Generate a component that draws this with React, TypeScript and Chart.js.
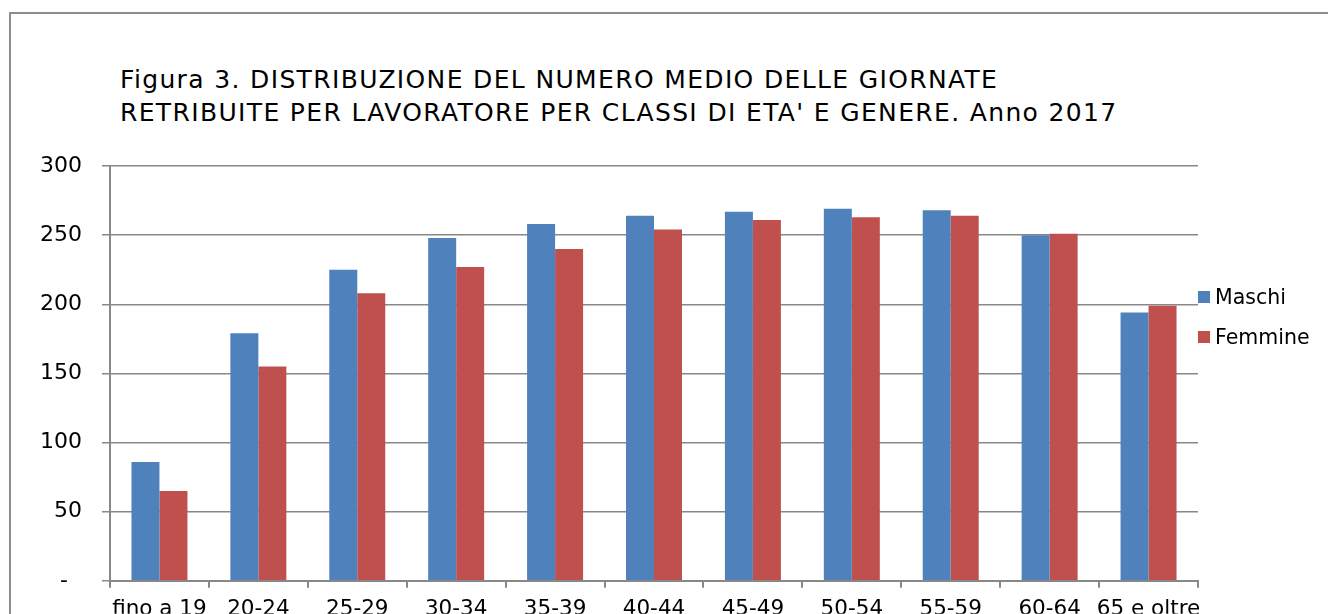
import React, { useEffect, useRef } from "react";
import { Chart, registerables } from "chart.js";

Chart.register(...registerables);

const categories = ["fino a 19", "20-24", "25-29", "30-34", "35-39", "40-44", "45-49", "50-54", "55-59", "60-64", "65 e oltre"];
const maschi = [86, 179, 225, 248, 258, 264, 267, 269, 268, 250, 194];
const femmine = [65, 155, 208, 227, 240, 254, 261, 263, 264, 251, 199];
const seriesNames = ["Maschi", "Femmine"];
const seriesColors = ["#4F81BD", "#C0504D"];
const yTicks = [0, 50, 100, 150, 200, 250, 300];
const titleLines = [
  "Figura 3. DISTRIBUZIONE DEL NUMERO MEDIO DELLE GIORNATE",
  "RETRIBUITE PER LAVORATORE PER CLASSI DI ETA' E GENERE. Anno 2017",
];

const FONT = "'DejaVu Sans', Verdana, sans-serif";

export default function App() {
  const ref = useRef<HTMLCanvasElement | null>(null);
  useEffect(() => {
    if (!ref.current) return;
    const chart = new Chart(ref.current, {
      type: "bar",
      data: {
        labels: categories,
        datasets: [
          { label: seriesNames[0], data: maschi, backgroundColor: seriesColors[0], categoryPercentage: 0.566, barPercentage: 1.0 },
          { label: seriesNames[1], data: femmine, backgroundColor: seriesColors[1], categoryPercentage: 0.566, barPercentage: 1.0 },
        ],
      },
      options: {
        animation: false,
        responsive: false,
        maintainAspectRatio: false,
        layout: { padding: { left: 0, top: 166, right: 130, bottom: 0 } },
        plugins: { legend: { display: false }, title: { display: false }, tooltip: { enabled: false } },
        scales: {
          x: {
            afterFit: (s: any) => { s.height = 33; },
            grid: { drawOnChartArea: false, tickLength: 7, color: "#888888", lineWidth: 2, offset: true },
            border: { color: "#888888", width: 2 },
            ticks: { font: { family: FONT, size: 21.5 }, color: "#000", padding: 9, maxRotation: 0, autoSkip: false },
          },
          y: {
            min: 0,
            max: 300,
            afterFit: (s: any) => { s.width = 110; },
            afterBuildTicks: (s: any) => { s.ticks = yTicks.map((v) => ({ value: v })); },
            grid: { color: "#888888", lineWidth: 1.5, tickLength: 8 },
            border: { color: "#888888", width: 2 },
            ticks: {
              font: { family: FONT, size: 22 },
              color: "#000",
              padding: 20,
              callback: (v: any) => (Number(v) === 0 ? "-  " : String(v)),
            },
          },
        },
      },
    });
    return () => chart.destroy();
  }, []);

  return (
    <div style={{ position: "fixed", left: 0, top: 0, width: 1328, height: 614, overflow: "hidden", background: "#fff", fontFamily: FONT }}>
      <div style={{ position: "absolute", left: 9, top: 12, width: 1400, height: 700, border: "2px solid #8c8c8c", boxSizing: "border-box" }} />
      <div style={{ position: "absolute", left: 120, top: 63, fontSize: 25, lineHeight: "33px", letterSpacing: "1.35px", color: "#000", whiteSpace: "nowrap" }}>
        {titleLines.map((t, i) => (<div key={i}>{t}</div>))}
      </div>
      <canvas ref={ref} width={1328} height={614} style={{ position: "absolute", left: 0, top: 0, width: 1328, height: 614 }} />
      {seriesNames.map((n, i) => (
        <div key={n} style={{ position: "absolute", left: 1198, top: 285 + i * 40, height: 24, display: "flex", alignItems: "center", fontSize: 20.5, color: "#000" }}>
          <div style={{ width: 12, height: 12, background: seriesColors[i], marginRight: 5 }} />
          <span>{n}</span>
        </div>
      ))}
    </div>
  );
}
